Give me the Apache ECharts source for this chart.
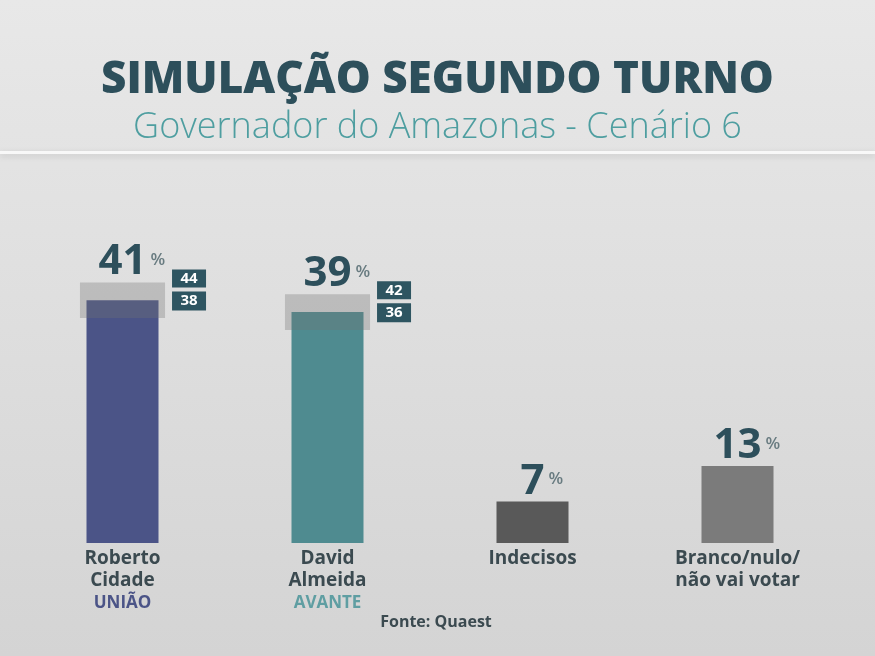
<!DOCTYPE html>
<html>
<head>
    <meta charset="utf-8">
    <title>Simulação segundo turno</title>
    <script src="https://cdn.jsdelivr.net/npm/echarts@6/dist/echarts.min.js"></script>
    <style>
        html, body { margin: 0; padding: 0; }
        #main { width: 875px; height: 656px; }
    </style>
</head>
<body>
<div id="main"></div>

<script type="text/javascript">
    // dados da pesquisa
    var categorias = ['Roberto\nCidade', 'David\nAlmeida', 'Indecisos', 'Branco/nulo/\nnão vai votar'];
    var partidos = ['UNIÃO', 'AVANTE', '', ''];
    var valores = [41, 39, 7, 13];
    var margemMax = [44, 42, null, null];
    var margemMin = [38, 36, null, null];
    var cores = ['#4b5487', '#4f8b90', '#595959', '#7b7b7b'];
    var coresPartido = ['#4b5487', '#5f9ea2', '#595959', '#7b7b7b'];

    var FONTE = '"Open Sans", "DejaVu Sans", sans-serif';

    // mede largura do numero pra colocar o % do lado
    var ctx = document.createElement('canvas').getContext('2d');
    function largura(txt, font) {
        ctx.font = font;
        return ctx.measureText(txt).width;
    }

    var dadosMargem = [];
    var dadosRotulo = [];
    for (var i = 0; i < valores.length; i++) {
        if (margemMax[i] != null) {
            dadosMargem.push([i, margemMin[i], margemMax[i]]);
        }
        var topo = margemMax[i] != null ? Math.max(valores[i], margemMax[i]) : valores[i];
        dadosRotulo.push([i, topo, valores[i]]);
    }

    var myChart = echarts.init(document.getElementById('main'));

    myChart.setOption({
        backgroundColor: {
            type: 'linear', x: 0, y: 0, x2: 0, y2: 1,
            colorStops: [
                {offset: 0, color: '#e8e8e8'},
                {offset: 1, color: '#d4d4d4'}
            ]
        },
        title: [{
            text: 'SIMULAÇÃO SEGUNDO TURNO',
            left: 'center',
            top: 53,
            textStyle: {
                fontFamily: FONTE,
                fontSize: 44,
                fontWeight: 800,
                color: '#2d4f5b'
            }
        }, {
            text: 'Governador do Amazonas - Cenário 6',
            left: 'center',
            top: 105,
            textStyle: {
                fontFamily: FONTE,
                fontSize: 36,
                fontWeight: 300,
                color: '#4e9ea0'
            }
        }, {
            text: 'Fonte: Quaest',
            left: 431,
            textAlign: 'center',
            top: 609,
            textStyle: {
                fontFamily: FONTE,
                fontSize: 16,
                fontWeight: 'bold',
                color: '#3b4a50'
            }
        }],
        graphic: [{
            type: 'rect',
            shape: {x: 0, y: 151, width: 875, height: 3},
            style: {
                fill: '#f8f8f8',
                shadowBlur: 6,
                shadowColor: 'rgba(0,0,0,0.15)',
                shadowOffsetY: 2
            }
        }],
        grid: {
            left: 20,
            right: 35,
            top: 247,
            bottom: 113
        },
        xAxis: {
            type: 'category',
            data: categorias,
            axisLine: {show: false},
            axisTick: {show: false},
            axisLabel: {
                margin: 5,
                interval: 0,
                formatter: function (v, idx) {
                    var s = '{n|' + v.split('\n').join('}\n{n|') + '}';
                    if (partidos[idx]) {
                        s += '\n{p' + idx + '|' + partidos[idx] + '}';
                    }
                    return s;
                },
                rich: {
                    n: {fontFamily: FONTE, fontSize: 19, fontWeight: 'bold', color: '#3b4a50', lineHeight: 22},
                    p0: {fontFamily: FONTE, fontSize: 17, fontWeight: 'bold', color: coresPartido[0], lineHeight: 22},
                    p1: {fontFamily: FONTE, fontSize: 17, fontWeight: 'bold', color: coresPartido[1], lineHeight: 22}
                }
            }
        },
        yAxis: {
            type: 'value',
            min: 0,
            max: 50,
            show: false,
            splitLine: {show: false}
        },
        series: [{
            name: 'Intenção',
            type: 'bar',
            barWidth: 72,
            data: valores.map(function (v, i) {
                return {value: v, itemStyle: {color: cores[i]}};
            })
        }, {
            // faixa da margem de erro
            name: 'Margem',
            type: 'custom',
            z: 3,
            data: dadosMargem,
            renderItem: function (params, api) {
                var idx = api.value(0);
                var pMin = api.coord([idx, api.value(1)]);
                var pMax = api.coord([idx, api.value(2)]);
                var w = api.size([1, 0])[0] * 0.415;
                var xd = pMax[0] + w / 2 + 7;
                return {
                    type: 'group',
                    children: [{
                        type: 'rect',
                        shape: {x: pMax[0] - w / 2, y: pMax[1], width: w, height: pMin[1] - pMax[1]},
                        style: {fill: 'rgba(115,115,115,0.32)'}
                    }, {
                        type: 'rect',
                        shape: {x: xd, y: pMax[1] - 13, width: 34, height: 18},
                        style: {fill: '#2e5561'}
                    }, {
                        type: 'text',
                        style: {
                            text: String(api.value(2)),
                            x: xd + 17, y: pMax[1] - 4,
                            align: 'center', verticalAlign: 'middle',
                            font: 'bold 15px ' + FONTE,
                            fill: '#ffffff'
                        }
                    }, {
                        type: 'rect',
                        shape: {x: xd, y: pMax[1] + 9, width: 34, height: 19},
                        style: {fill: '#2e5561'}
                    }, {
                        type: 'text',
                        style: {
                            text: String(api.value(1)),
                            x: xd + 17, y: pMax[1] + 18.5,
                            align: 'center', verticalAlign: 'middle',
                            font: 'bold 15px ' + FONTE,
                            fill: '#ffffff'
                        }
                    }]
                };
            }
        }, {
            // numero grande + %
            name: 'Rotulo',
            type: 'custom',
            z: 4,
            data: dadosRotulo,
            renderItem: function (params, api) {
                var idx = api.value(0);
                var p = api.coord([idx, api.value(1)]);
                var num = String(api.value(2));
                var fNum = 'bold 42px ' + FONTE;
                var w = largura(num, fNum);
                var base = p[1] - 10;
                return {
                    type: 'group',
                    children: [{
                        type: 'text',
                        style: {
                            text: num,
                            x: p[0], y: base + 11,
                            align: 'center', verticalAlign: 'bottom',
                            font: fNum,
                            fill: '#2d4f5b'
                        }
                    }, {
                        type: 'text',
                        style: {
                            text: '%',
                            x: p[0] + w / 2 + 4, y: base - 12,
                            align: 'left', verticalAlign: 'middle',
                            font: '600 17px ' + FONTE,
                            fill: '#687b80'
                        }
                    }]
                };
            }
        }]
    });
</script>
</body>
</html>
